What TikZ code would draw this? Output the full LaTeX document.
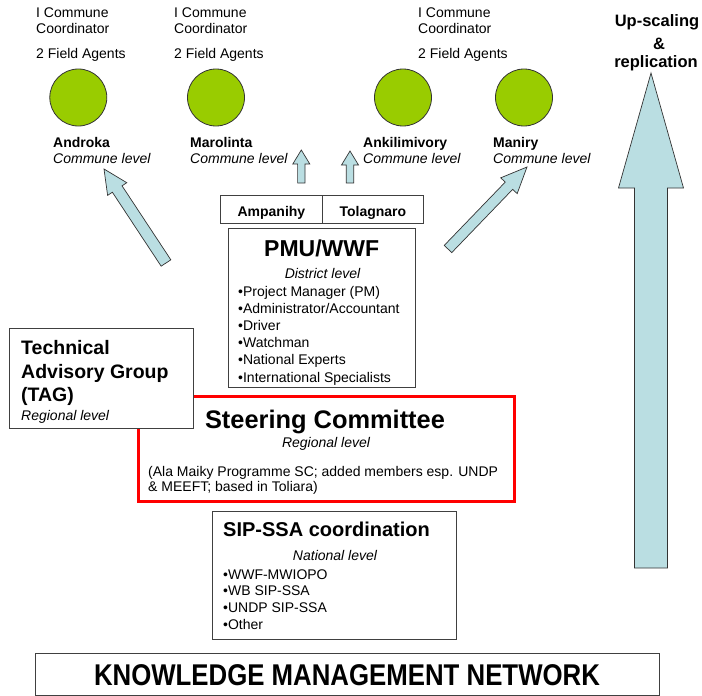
\documentclass[tikz,border=0pt]{standalone}
\usepackage{fontspec}
\setmainfont{Liberation Sans}
\newfontfamily\narrowbf{Liberation Sans Bold}[FakeStretch=0.86]
\usetikzlibrary{calc}

\definecolor{communegreen}{RGB}{153,204,0}
\definecolor{arrowblue}{RGB}{186,222,226}
\definecolor{scred}{RGB}{255,0,0}

\newcommand{\fsz}[1]{\fontsize{#1}{#1}\selectfont}

% block arrow: tail, tip, shaft half width, head half width, head length
\newcommand{\blockarrow}[5]{%
  \path ($(#2)!#5!(#1)$) coordinate (hb);
  \draw[blockfill] ($(#1)!#3!90:(#2)$) -- ($(hb)!#3!90:(#2)$) -- ($(hb)!#4!90:(#2)$)
    -- (#2) -- ($(hb)!#4!-90:(#2)$) -- ($(hb)!#3!-90:(#2)$) -- ($(#1)!#3!-90:(#2)$) -- cycle;
}

\tikzset{
  plain/.style={inner sep=0pt, anchor=base west, font=\fsz{14}},
  plainc/.style={inner sep=0pt, anchor=base, font=\fsz{14}},
  boldlbl/.style={inner sep=0pt, anchor=base west, font=\fsz{14}\bfseries},
  itlbl/.style={inner sep=0pt, anchor=base west, font=\fsz{14}\itshape},
  itc/.style={inner sep=0pt, anchor=base, font=\fsz{14}\itshape},
  box/.style={draw=black!75, line width=0.8pt, fill=white, anchor=north west, inner sep=0pt},
  commune/.style={circle, draw=black!80, line width=0.8pt, fill=communegreen,
    minimum size=57pt, inner sep=0pt},
  blockfill/.style={draw=black!80, line width=0.7pt, fill=arrowblue, line join=miter},
}

\begin{document}
\begin{tikzpicture}[x=1pt, y=-1pt]
\useasboundingbox (0,0) rectangle (702,696);

% ---- commune staffing notes ----
\foreach \cx/\nm in {36/a, 174/b, 418/c} {
  \node[plain] (staff1\nm) at (\cx,17) {I Commune};
  \node[plain] (staff2\nm) at (\cx,33) {Coordinator};
  \node[plain] (staff3\nm) at (\cx,58.5) {2 Field Agents};
}

% ---- communes ----
\node[commune] (androka) at (78.3,97.5) {};
\node[commune] (marolinta) at (216,97.5) {};
\node[commune] (ankili) at (403,97.5) {};
\node[commune] (maniry) at (524,97.5) {};

\node[boldlbl] (androkaN) at (53,147) {Androka};
\node[itlbl]   (androkaL) at (53,163.5) {Commune level};
\node[boldlbl] (marolintaN) at (190,147) {Marolinta};
\node[itlbl]   (marolintaL) at (190,163.5) {Commune level};
\node[boldlbl] (ankiliN) at (363,147) {Ankilimivory};
\node[itlbl]   (ankiliL) at (363,163.5) {Commune level};
\node[boldlbl] (maniryN) at (493,147) {Maniry};
\node[itlbl]   (maniryL) at (493,163.5) {Commune level};

% ---- district offices ----
\node[box, minimum width=102pt, minimum height=28pt] (ampanihy) at (220,195) {};
\node[box, minimum width=101pt, minimum height=28pt] (tolagnaro) at (322,195) {};
\node[plainc, font=\fsz{14}\bfseries] (ampT) at (ampanihy.center |- 0,216) {Ampanihy};
\node[plainc, font=\fsz{14}\bfseries] (tolT) at (tolagnaro.center |- 0,216) {Tolagnaro};

% ---- PMU ----
\node[box, minimum width=187pt, minimum height=159pt] (pmu) at (228,228) {};
\node[plainc, font=\fsz{23}\bfseries] (pmuT) at (321.7,256.7) {PMU/WWF};
\node[itc] (pmuL) at (322.5,278) {District level};
\foreach \t [count=\i from 0] in {Project Manager (PM), Administrator/Accountant, Driver,
    Watchman, National Experts, International Specialists} {
  \node[plain] (pmuB\i) at (238,296.5+17.1*\i) {\textbullet\t};
}

% ---- steering committee (below TAG) ----
\node[draw=scred, line width=2.6pt, fill=white, anchor=north west, inner sep=0pt,
      minimum width=376pt, minimum height=105pt] (sc) at (137,395) {};
\node[plainc, font=\fsz{25.4}\bfseries] (scT) at (325,428) {Steering Committee};
\node[itc] (scL) at (326,447) {Regional level};
\node[plain] (scA) at (148,476) {(Ala Maiky Programme SC; added members esp. UNDP};
\node[plain] (scB) at (148,491) {\& MEEFT; based in Toliara)};

% ---- TAG ----
\node[box, minimum width=184pt, minimum height=100pt] (tag) at (9,328) {};
\node[boldlbl, font=\fsz{19.5}\bfseries] (tag1) at (21,354) {Technical};
\node[boldlbl, font=\fsz{19.5}\bfseries] (tag2) at (21,378) {Advisory Group};
\node[boldlbl, font=\fsz{19.5}\bfseries] (tag3) at (21,401.5) {(TAG)};
\node[itlbl] (tagL) at (21,420) {Regional level};

% ---- SIP-SSA ----
\node[box, minimum width=244pt, minimum height=128pt] (sip) at (212,511) {};
\node[boldlbl, font=\fsz{20}\bfseries] (sipT) at (223,536) {SIP-SSA coordination};
\node[itc] (sipL) at (335,560) {National level};
\foreach \t [count=\i from 0] in {WWF-MWIOPO, WB SIP-SSA, UNDP SIP-SSA, Other} {
  \node[plain] (sipB\i) at (223,579+16.7*\i) {\textbullet\t};
}

% ---- knowledge network ----
\node[box, minimum width=624pt, minimum height=42pt] (kmn) at (34.5,653) {};
\node[plainc, font=\fsz{30}\narrowbf] (kmnT) at (347,685) {KNOWLEDGE MANAGEMENT NETWORK};

% ---- up-scaling ----
\node[plainc, font=\fsz{16.5}\bfseries] (up1) at (657,27) {Up-scaling};
\node[plainc, font=\fsz{16.5}\bfseries] (up2) at (659,49.3) {\&};
\node[plainc, font=\fsz{16.5}\bfseries] (up3) at (656,67) {replication};

% ---- block arrows ----
\coordinate (la-t) at (166,263);  \coordinate (la-h) at (104,169);
\coordinate (ra-t) at (448,249);  \coordinate (ra-h) at (527,167);
\coordinate (sa-t) at (301.3,183); \coordinate (sa-h) at (301.3,150);
\coordinate (sb-t) at (350,183);  \coordinate (sb-h) at (350,151);
\coordinate (big-t) at (651,568); \coordinate (big-h) at (651,73);

\blockarrow{la-t}{la-h}{5.8pt}{11.5pt}{24pt}
\blockarrow{ra-t}{ra-h}{5.2pt}{11.4pt}{26pt}
\blockarrow{sa-t}{sa-h}{3.7pt}{8.5pt}{14pt}
\blockarrow{sb-t}{sb-h}{3.7pt}{8.5pt}{14pt}
\blockarrow{big-t}{big-h}{16.5pt}{32.5pt}{115pt}
\end{tikzpicture}
\end{document}
